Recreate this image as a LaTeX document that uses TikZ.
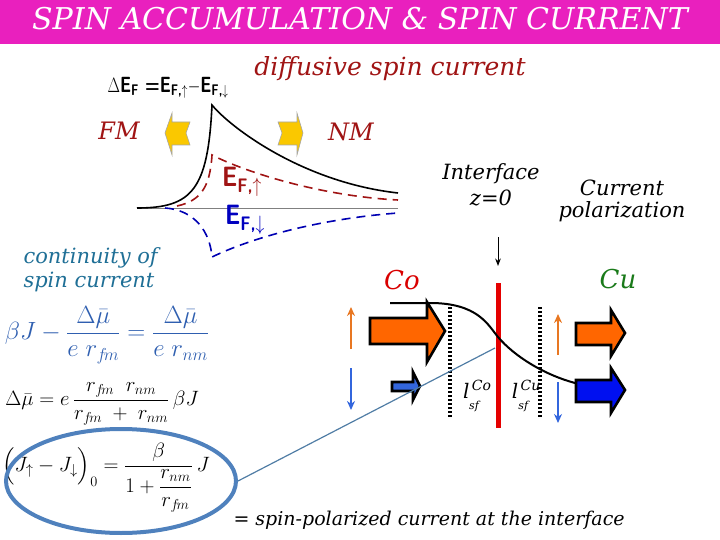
\documentclass[tikz,border=0pt]{standalone}
\usepackage{amsmath}
\usepackage{fontspec}
\usetikzlibrary{shapes.geometric,arrows.meta}
\newfontfamily\handfont{DejaVu Serif}
\newcommand{\hw}{\handfont\itshape}
\newcommand{\fs}[1]{\fontsize{#1}{#1}\selectfont}
\definecolor{titlepink}{RGB}{233,32,190}
\definecolor{darkred}{RGB}{160,20,20}
\definecolor{eqblue}{RGB}{47,95,176}
\definecolor{tealblue}{RGB}{31,111,150}
\definecolor{loopblue}{RGB}{79,129,189}
\definecolor{linkblue}{RGB}{80,125,165}
\definecolor{spinorange}{RGB}{255,102,0}
\definecolor{thinorange}{RGB}{232,119,34}
\definecolor{thinblue}{RGB}{51,102,221}
\definecolor{deepblue}{RGB}{0,16,240}
\definecolor{arrowgold}{RGB}{250,200,0}
\definecolor{cugreen}{RGB}{26,122,26}
\tikzset{
  handtext/.style={font=\hw\fs{#1}},
  bigarrow/.style={draw=black,line width=2.6pt,line join=miter},
  spinarrow/.style={line width=2.5pt,-{Stealth[length=9pt,width=8pt]}},
  dotline/.style={line width=3.5pt,dash pattern=on 2pt off 2pt},
  goldarrow/.style={fill=arrowgold,draw=gray!70,line width=0.6pt}
}
\begin{document}
\begin{tikzpicture}[x=1pt,y=-1pt,>=Stealth]
\useasboundingbox (0,0) rectangle (720,540);
% title bar
\fill[titlepink] (0,0) rectangle (720,44);
\node[handtext=30,text=white] (title) at (360,19) {SPIN ACCUMULATION \& SPIN CURRENT};
% top left sketch
\node[handtext=25,text=darkred] (diffuse) at (390,69) {diffusive spin current};
\node[font=\sffamily\bfseries\fs{22},xscale=0.78] (deltaEF) at (168,88)
  {$\Delta$E\textsubscript{F} =E\textsubscript{F,$\uparrow$}$-$E\textsubscript{F,$\downarrow$}};
\node[handtext=24,text=darkred] (fm) at (119,131) {FM};
\node[handtext=24,text=darkred] (nm) at (351,132) {NM};
\draw[goldarrow] (165,133) -- (172,113) -- (172,122) -- (190,122) -- (186,133)
  -- (190,145) -- (172,145) -- (172,155) -- cycle;
\draw[goldarrow] (303,133) -- (297,113) -- (297,122) -- (278,122) -- (282,133)
  -- (278,145) -- (297,145) -- (297,155) -- cycle;
\draw[gray,line width=0.8pt] (137,208) -- (398,208);
\draw[line width=1.6pt] (137,208) .. controls (192,208) and (208,190) .. (212,105)
  .. controls (228,125) and (300,182) .. (398,193);
\draw[darkred,line width=1.6pt,dash pattern=on 9pt off 6pt] (177,206) .. controls (200,201) and (210,188) .. (212,155)
  .. controls (245,172) and (320,196) .. (398,200);
\draw[blue!70!black,line width=1.6pt,dash pattern=on 9pt off 6pt] (165,208) .. controls (195,210) and (210,232) .. (212,257)
  .. controls (260,234) and (330,218) .. (398,213);
\node[font=\sffamily\bfseries\fs{28},text=darkred,xscale=0.85] (EFup) at (242,182) {E\textsubscript{F,$\uparrow$}};
\node[font=\sffamily\bfseries\fs{28},text=blue!75!black,xscale=0.85] (EFdown) at (245,220) {E\textsubscript{F,$\downarrow$}};
% continuity equations
\node[handtext=21,text=tealblue,align=left,anchor=west] (contin) at (20,270) {continuity of\\[3pt] spin current};
\node[text=eqblue,font=\fs{23}] (eqone) at (107,335)
  {$\beta J-\dfrac{\Delta\bar{\mu}}{e\;r_{f\!m}}=\dfrac{\Delta\bar{\mu}}{e\;r_{nm}}$};
\node[font=\fs{21}] (eqtwo) at (102,404)
  {$\Delta\bar{\mu}=e\,\dfrac{r_{f\!m}\;\;r_{nm}}{r_{f\!m}\;+\;r_{nm}}\,\beta J$};
\node[font=\fs{22}] (eqthree) at (106,478)
  {$\Big(J_{\uparrow}-J_{\downarrow}\Big)_{0}=\dfrac{\beta}{1+\dfrac{r_{nm}}{r_{f\!m}}}\,J$};
\node[draw=loopblue,line width=4pt,ellipse,minimum width=230pt,minimum height=104pt] (loop) at (121,481) {};
% interface picture
\node[handtext=21,align=center] (iface) at (491,185) {Interface\\[5pt] z=0};
\node[handtext=21,align=center] (polar) at (622,201) {Current\\[1pt] polarization};
\node[handtext=26,text=red!85!black] (co) at (402,280) {Co};
\node[handtext=26,text=cugreen] (cu) at (618,279) {Cu};
\coordinate (arrtop) at (498,237);
\coordinate (arrbot) at (498,266);
\draw[->,line width=1pt] (arrtop) -- (arrbot);
\coordinate (ifTop) at (498,283);
\coordinate (ifBot) at (498,428);
\coordinate (ifpt) at (495,348);
\draw[dotline] (450,307) -- (450,418);
\draw[dotline] (540,307) -- (540,418);
\draw[red!90!black,line width=5pt] (ifTop) -- (ifBot);
\draw[line width=2pt] (390,303) -- (430,303) .. controls (478,303) and (488,325) .. (498,337)
  .. controls (515,357) and (545,375) .. (575,383);
\draw[bigarrow,fill=spinorange] (370,318) -- (427,318) -- (427,302) -- (445,331) -- (427,362)
  -- (427,344) -- (370,344) -- cycle;
\draw[bigarrow,fill=thinblue] (392,382) -- (413,382) -- (413,372) -- (420,386) -- (413,400)
  -- (413,391) -- (392,391) -- cycle;
\draw[bigarrow,fill=spinorange] (576,323) -- (611,323) -- (611,310) -- (625,333) -- (611,356)
  -- (611,345) -- (576,345) -- cycle;
\draw[bigarrow,fill=deepblue] (576,380) -- (611,380) -- (611,368) -- (625,390) -- (611,413)
  -- (611,402) -- (576,402) -- cycle;
\draw[spinarrow,thinorange] (351,349) -- (351,307);
\draw[spinarrow,thinblue] (351,368) -- (351,410);
\draw[spinarrow,thinorange] (558,355) -- (558,314);
\draw[spinarrow,thinblue] (558,382) -- (558,423);
\node[handtext=20] (lco) at (471,396) {l\textsuperscript{\,Co}\kern-1.3em\raisebox{-1.1ex}{\fs{11}\,\,sf}};
\node[handtext=20] (lcu) at (520,396) {l\textsuperscript{\,Cu}\kern-1.3em\raisebox{-1.1ex}{\fs{11}\,\,sf}};
% link from the boxed result to the interface
\draw[linkblue,line width=1.2pt] (loop.east) -- (ifpt);
\node[handtext=19,anchor=west] (meaning) at (230,520) {= spin-polarized current at the interface};
\end{tikzpicture}
\end{document}
